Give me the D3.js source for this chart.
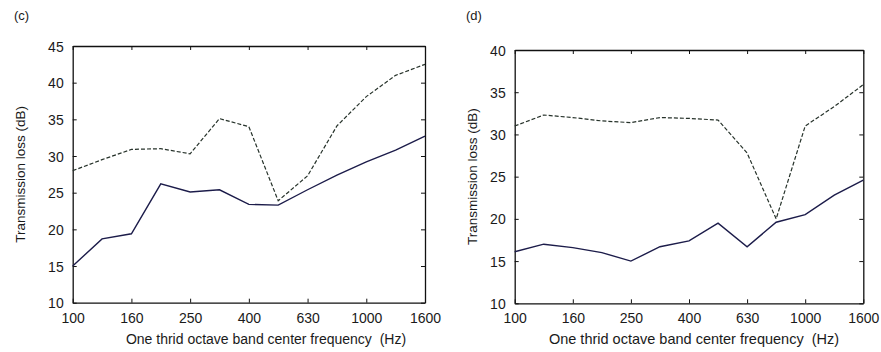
<!DOCTYPE html>
<html>
<head>
<meta charset="utf-8">
<script src="https://d3js.org/d3.v7.min.js"></script>
<style>
  body { margin: 0; background: #fff; }
  text { font-family: "Liberation Sans", Arial, sans-serif; fill: #1a1a1a; }
</style>
</head>
<body>
<script>
// one-third octave band centres (Hz)
var freqs = ["100","125","160","200","250","315","400","500","630","800","1000","1250","1600"];
var tickLabels = ["100","160","250","400","630","1000","1600"];

// panel (c)
var cSolid  = [15.0,18.7,19.4,26.2,25.1,25.4,23.4,23.3,25.4,27.4,29.2,30.8,32.7];
var cDashed = [28.0,29.5,30.9,31.0,30.3,35.1,34.0,23.9,27.3,34.1,38.1,41.0,42.5];
var cTicks  = [10,15,20,25,30,35,40,45];

// panel (d)
var dSolid  = [16.1,17.0,16.6,16.0,15.0,16.7,17.4,19.5,16.7,19.6,20.5,22.8,24.6];
var dDashed = [31.0,32.3,32.0,31.6,31.4,32.0,31.9,31.7,27.8,20.0,31.0,33.3,35.9];
var dTicks  = [10,15,20,25,30,35,40];

var W = 881, H = 352;

var svg = d3.select("body").append("svg")
  .attr("width", W)
  .attr("height", H);

function panel(p) {
  var g = svg.append("g");

  var x = d3.scalePoint()
    .domain(freqs)
    .range([p.left, p.right])
    .padding(0);

  var y = d3.scaleLinear()
    .domain([p.yTicks[0], p.yTicks[p.yTicks.length - 1]])
    .range([p.bottom, p.top]);

  // axes, ticks pointing inward on all four sides
  g.append("g")
    .attr("transform", "translate(0," + p.bottom + ")")
    .call(d3.axisBottom(x).tickValues(tickLabels).tickSizeInner(-4).tickSizeOuter(0).tickPadding(10));
  g.append("g")
    .attr("transform", "translate(0," + p.top + ")")
    .call(d3.axisTop(x).tickValues(tickLabels).tickSizeInner(-4).tickSizeOuter(0).tickFormat(""));
  var left = g.append("g")
    .attr("transform", "translate(" + p.left + ",0)")
    .call(d3.axisLeft(y).tickValues(p.yTicks).tickSizeInner(-4).tickSizeOuter(0).tickPadding(9));
  g.append("g")
    .attr("transform", "translate(" + p.right + ",0)")
    .call(d3.axisRight(y).tickValues(p.yTicks).tickSizeInner(-4).tickSizeOuter(0).tickFormat(""));

  g.selectAll(".domain").attr("stroke", "#111").attr("stroke-width", 1.3);
  g.selectAll(".tick line").attr("stroke", "#111");
  g.selectAll(".tick text")
    .style("font-size", "14px")
    .style("font-family", "'Liberation Sans', Arial, sans-serif")
    .attr("fill", "#1a1a1a");
  left.selectAll(".tick text").attr("dy", "0.36em");

  var line = d3.line()
    .x(function(d, i) { return x(freqs[i]); })
    .y(function(d) { return y(d); });

  g.append("path")
    .datum(p.dashed)
    .attr("d", line)
    .attr("fill", "none")
    .attr("stroke", "#26322a")
    .attr("stroke-width", 1.2)
    .attr("stroke-dasharray", "4,2");

  g.append("path")
    .datum(p.solid)
    .attr("d", line)
    .attr("fill", "none")
    .attr("stroke", "#1c1c4a")
    .attr("stroke-width", 1.4);

  // labels
  g.append("text")
    .attr("x", p.tagX)
    .attr("y", 20)
    .style("font-size", "13px")
    .text(p.tag);

  g.append("text")
    .attr("x", p.titleX)
    .attr("y", 344)
    .attr("text-anchor", "middle")
    .style("font-size", p.titleSize)
    .text("One thrid octave band center frequency\u00a0\u00a0(Hz)");

  g.append("text")
    .attr("transform", "translate(" + p.ytX + "," + ((p.top + p.bottom) / 2) + ") rotate(-90)")
    .attr("text-anchor", "middle")
    .style("font-size", "13.5px")
    .text("Transmission loss (dB)");
}

panel({ tag: "(c)", tagX: 14, left: 72.7, right: 425, top: 46, bottom: 302.7,
        yTicks: cTicks, solid: cSolid, dashed: cDashed, ytX: 25, titleX: 266, titleSize: "14px" });
panel({ tag: "(d)", tagX: 466, left: 514.7, right: 863.3, top: 50, bottom: 303.3,
        yTicks: dTicks, solid: dSolid, dashed: dDashed, ytX: 477, titleX: 694, titleSize: "14.5px" });
</script>
</body>
</html>
